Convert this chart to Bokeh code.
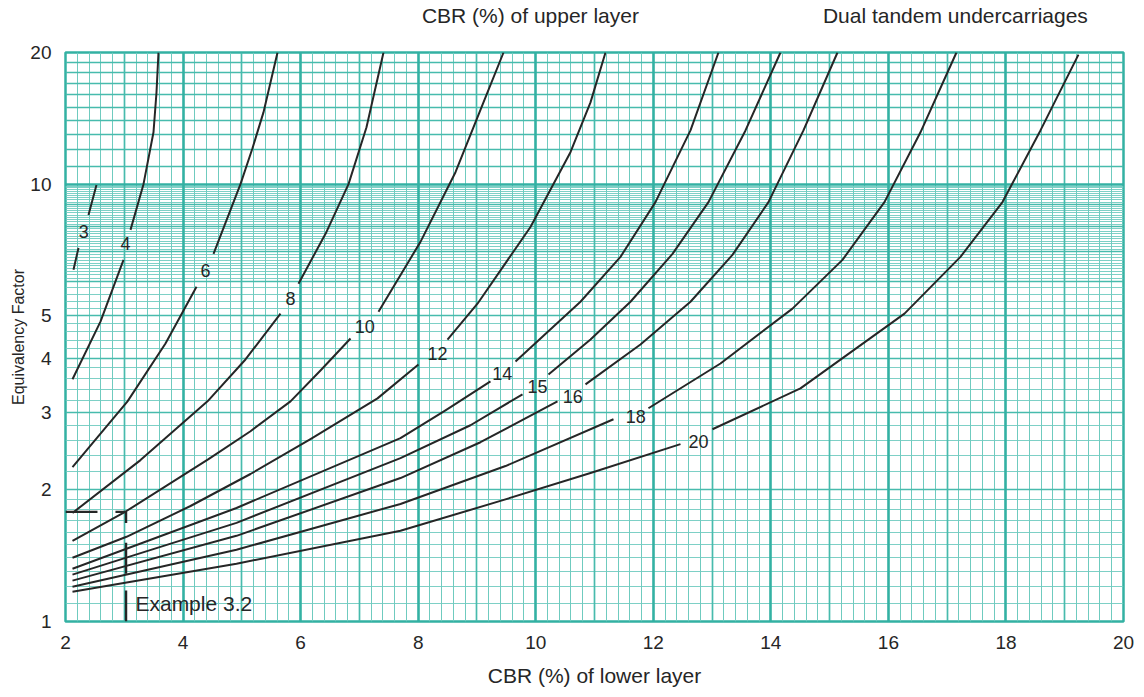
import math
from bokeh.plotting import figure
from bokeh.models import FixedTicker, Grid, Label, ColumnDataSource, LinearAxis
from bokeh.core.properties import value
from bokeh.embed import file_html
from bokeh.resources import INLINE

nan = float("nan")

# ---- data: CBR of lower layer (x) vs equivalency factor (y)
cbr3_x = [2.136, 2.221, nan, 2.391, 2.527]
cbr3_y = [6.37, 7.15, nan, 8.50, 9.95]
cbr4_x = [2.119, 2.595, 2.987, nan, 3.106, 3.327, 3.497, 3.548, 3.582]
cbr4_y = [3.58, 4.85, 6.71, nan, 7.86, 10.0, 13.14, 16.2, 20.0]
cbr6_x = [2.119, 3.055, 3.701, 4.229, nan, 4.518, 4.977, 5.181, 5.368, 5.607]
cbr6_y = [2.254, 3.187, 4.320, 5.828, nan, 6.926, 10.0, 12.08, 14.59, 20.0]
cbr8_x = [2.119, 3.276, 4.416, 5.062, 5.658, nan, 5.964, 6.440, 6.815, 7.121, 7.410]
cbr8_y = [1.771, 2.339, 3.187, 3.973, 5.057, nan, 5.919, 7.777, 10.0, 13.49, 20.0]
cbr10_x = [2.119, 3.038, 4.433, 5.147, 5.828, 6.338, 6.849, nan, 7.325, 8.039, 8.635, 9.111, 9.452]
cbr10_y = [1.529, 1.789, 2.351, 2.723, 3.187, 3.750, 4.436, nan, 5.110, 7.379, 10.65, 15.38, 20.0]
cbr12_x = [2.119, 3.038, 4.127, 5.147, 6.168, 7.308, 8.005, nan, 8.499, 9.009, 9.911, 10.591, 10.932, 11.187]
cbr12_y = [1.399, 1.562, 1.837, 2.174, 2.612, 3.237, 3.870, nan, 4.412, 5.329, 7.982, 11.83, 15.38, 20.0]
cbr14_x = [2.119, 4.909, 7.699, 8.465, 9.230, nan, 9.656, 10.761, 11.442, 12.037, 12.633, 13.109]
cbr14_y = [1.320, 1.818, 2.625, 3.040, 3.540, nan, 3.931, 5.385, 6.819, 9.099, 13.27, 20.0]
cbr15_x = [2.119, 4.909, 7.699, 8.890, 9.775, nan, 10.217, 10.932, 11.612, 12.327, 12.939, 13.569, 14.164]
cbr15_y = [1.280, 1.681, 2.364, 2.810, 3.307, nan, 3.672, 4.412, 5.385, 6.926, 9.099, 13.27, 20.0]
cbr16_x = [2.119, 4.909, 7.699, 9.060, 10.370, nan, 10.847, 11.782, 12.633, 13.347, 13.960, 14.555, 15.134]
cbr16_y = [1.240, 1.570, 2.128, 2.570, 3.187, nan, 3.484, 4.298, 5.385, 6.891, 9.099, 13.27, 20.0]
cbr18_x = [2.119, 4.909, 7.699, 9.486, 11.323, nan, 11.918, 13.143, 14.368, 15.219, 15.933, 16.546, 17.158]
cbr18_y = [1.201, 1.459, 1.857, 2.267, 2.900, nan, 3.073, 3.890, 5.192, 6.713, 9.099, 13.14, 20.0]
cbr20_x = [2.119, 4.909, 7.699, 9.400, 10.932, 12.463, nan, 13.007, 14.504, 16.274, 17.226, 17.941, 18.587, 19.234]
cbr20_y = [1.170, 1.356, 1.612, 1.887, 2.185, 2.544, nan, 2.752, 3.412, 5.057, 6.819, 9.099, 13.27, 19.78]

curve_label_text = ["3", "4", "6", "8", "10", "12", "14", "15", "16", "18", "20"]
curve_label_x = [2.311, 3.02, 4.38, 5.83, 7.09, 8.33, 9.43, 10.03, 10.63, 11.70, 12.77]
curve_label_y = [7.78, 7.30, 6.34, 5.47, 4.73, 4.10, 3.69, 3.45, 3.27, 2.945, 2.585]

# Example 3.2 construction lines
example_h_x = [2.0, 2.544, nan, 2.85, 3.03]
example_h_y = [1.781, 1.781, nan, 1.781, 1.781]
example_v_x = [3.03, 3.03, nan, 3.03, 3.03, nan, 3.03, 3.03]
example_v_y = [1.781, 1.68, nan, 1.513, 1.286, nan, 1.177, 1.0]

x_tick_values = [2, 4, 6, 8, 10, 12, 14, 16, 18, 20]
y_tick_values = [1, 2, 3, 4, 5, 10, 20]
top_texts = ["CBR (%) of upper layer", "Dual tandem undercarriages"]

TEAL_MAJOR = "#33b1a3"
TEAL_MED = "#47bbad"
TEAL_MINOR = "#6fcbbf"
INK = "#262626"
FONT = "Liberation Sans"

p = figure(width=1144, height=697, x_range=(2, 20), y_range=(1, 20),
           y_axis_type="log", output_backend="svg", toolbar_location=None,
           min_border_left=65, min_border_right=21, min_border_top=49,
           min_border_bottom=76, background_fill_color="white")
p.xgrid.visible = False
p.ygrid.visible = False
p.outline_line_color = TEAL_MAJOR
p.outline_line_width = 2.5

# ---- grid (graph paper)
x_minor = [round(2 + 0.2 * i, 2) for i in range(91) if i % 5 != 0]
x_odd = list(range(3, 20, 2))
x_even = list(range(2, 21, 2))
y_minor = ([round(1 + 0.1 * i, 2) for i in range(1, 10)] +
           [round(2 + 0.2 * i, 2) for i in range(1, 20) if i % 5 != 0] +
           [round(6 + 0.1 * i, 2) for i in range(1, 40) if i % 10 != 0])
y_med = [2, 3, 4, 5, 6, 7, 8, 9] + list(range(11, 20))
y_major = [1, 10, 20]

def add_grid(dim, ticks, color, width):
    p.add_layout(Grid(dimension=dim, ticker=FixedTicker(ticks=ticks),
                      grid_line_color=color, grid_line_width=width))

add_grid(0, x_minor, TEAL_MINOR, 1)
add_grid(1, y_minor, TEAL_MINOR, 0.9)
add_grid(0, x_odd, TEAL_MED, 1.7)
add_grid(1, y_med, TEAL_MED, 1.4)
add_grid(0, x_even, TEAL_MAJOR, 2.6)
add_grid(1, y_major, TEAL_MAJOR, 2.6)

# ---- curves
curves = [(cbr3_x, cbr3_y), (cbr4_x, cbr4_y), (cbr6_x, cbr6_y), (cbr8_x, cbr8_y),
          (cbr10_x, cbr10_y), (cbr12_x, cbr12_y), (cbr14_x, cbr14_y),
          (cbr15_x, cbr15_y), (cbr16_x, cbr16_y), (cbr18_x, cbr18_y),
          (cbr20_x, cbr20_y)]
for cx, cy in curves:
    p.line(cx, cy, line_color=INK, line_width=2.0, line_join="round")

p.line(example_h_x, example_h_y, line_color=INK, line_width=2.2)
p.line(example_v_x, example_v_y, line_color=INK, line_width=2.4)

lab_src = ColumnDataSource(dict(x=curve_label_x, y=curve_label_y, t=curve_label_text))
p.text(x="x", y="y", text="t", source=lab_src, text_font=value(FONT),
       text_font_size="18px", text_color=INK, text_align="center",
       text_baseline="middle")

p.add_layout(Label(x=3.19, y=1.099, text="Example 3.2", text_font=FONT,
                   text_font_size="21px", text_color=INK, text_align="left",
                   text_baseline="middle"))

# ---- axes
bottom_axis = p.below[0]
left_axis = p.left[0]
top_pos = [9.91, 17.14]
top_axis = LinearAxis(ticker=FixedTicker(ticks=top_pos),
                      major_label_overrides={top_pos[0]: top_texts[0],
                                             top_pos[1]: top_texts[1]})
p.add_layout(top_axis, "above")

bottom_axis.ticker = FixedTicker(ticks=x_tick_values)
bottom_axis.major_label_overrides = {v: str(v) for v in x_tick_values}
left_axis.ticker = FixedTicker(ticks=y_tick_values)
left_axis.major_label_overrides = {v: str(v) for v in y_tick_values}
for ax in (bottom_axis, left_axis, top_axis):
    ax.axis_line_color = None
    ax.major_tick_line_color = None
    ax.minor_tick_line_color = None
    ax.major_label_text_font = FONT
    ax.major_label_text_font_size = "19px"
    ax.major_label_text_color = INK
    ax.axis_label_text_font = FONT
    ax.axis_label_text_font_style = "normal"
    ax.axis_label_text_color = INK
    ax.major_label_standoff = 8
top_axis.major_label_text_font_size = "21px"
top_axis.major_label_standoff = 20
bottom_axis.axis_label = "CBR (%) of lower layer"
bottom_axis.axis_label_text_font_size = "21px"
bottom_axis.axis_label_standoff = 12
left_axis.axis_label = "Equivalency Factor"
left_axis.axis_label_text_font_size = "16px"
left_axis.axis_label_standoff = 0

open("out.html", "w").write(file_html(p, INLINE))
